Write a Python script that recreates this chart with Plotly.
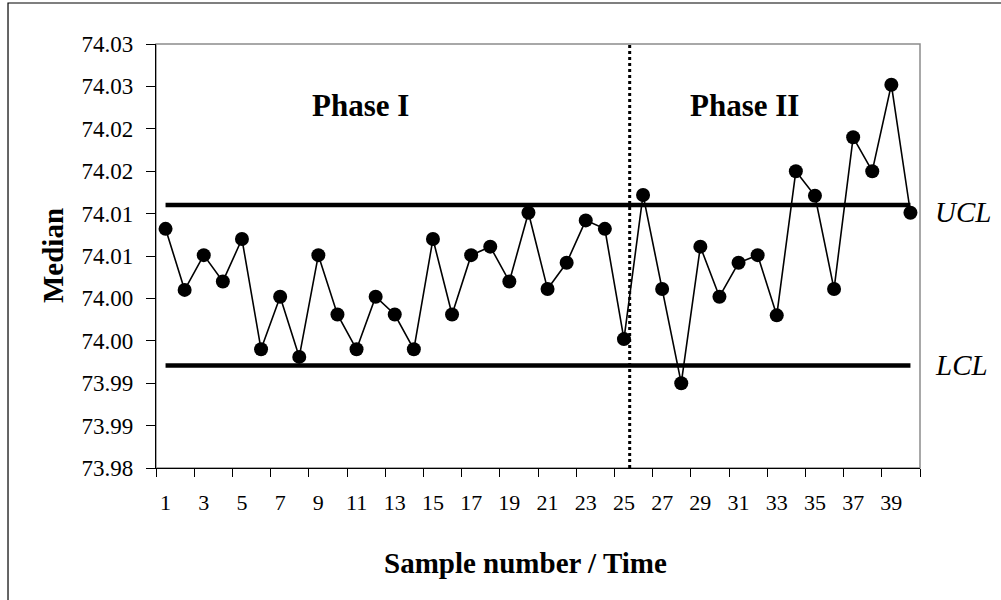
import plotly.graph_objects as go

# ---- data ----
samples = list(range(1, 41))
medians = [74.0082, 74.0010, 74.0051, 74.0020, 74.0070, 73.9940, 74.0002, 73.9931, 74.0051, 73.9981,
           73.9940, 74.0002, 73.9981, 73.9940, 74.0070, 73.9981, 74.0051, 74.0061, 74.0020, 74.0101,
           74.0011, 74.0042, 74.0092, 74.0082, 73.9952, 74.0122, 74.0011, 73.9900, 74.0061, 74.0002,
           74.0042, 74.0051, 73.9980, 74.0150, 74.0121, 74.0011, 74.0190, 74.0150, 74.0252, 74.0101]
ucl_value = 74.0110
lcl_value = 73.9921
phase_split = 25.3
y_tick_values = [73.980, 73.985, 73.990, 73.995, 74.000, 74.005, 74.010, 74.015, 74.020, 74.025, 74.030]
y_tick_labels = ["73.98", "73.99", "73.99", "74.00", "74.00", "74.01", "74.01", "74.02", "74.02", "74.03", "74.03"]
x_tick_values = samples[::2]
x_tick_labels = [str(s) for s in x_tick_values]
phase_labels = ["Phase I", "Phase II"]
phase_label_x = [11.2, 31.3]
phase_label_y = 74.0227

FONT = "Times New Roman, Liberation Serif, serif"

fig = go.Figure()

fig.add_trace(go.Scatter(x=samples, y=[ucl_value] * len(samples), mode="lines",
                         line=dict(color="black", width=4.5), hoverinfo="skip", showlegend=False))
fig.add_trace(go.Scatter(x=samples, y=[lcl_value] * len(samples), mode="lines",
                         line=dict(color="black", width=4.5), hoverinfo="skip", showlegend=False))
fig.add_trace(go.Scatter(x=samples, y=medians, mode="lines+markers",
                         line=dict(color="black", width=1.6),
                         marker=dict(color="black", size=14),
                         showlegend=False))

# phase split dotted line
fig.add_shape(type="line", xref="x", yref="paper", x0=phase_split, x1=phase_split, y0=0, y1=1,
              line=dict(color="black", width=3, dash="dot"))
# plot area border (gray)
fig.add_shape(type="rect", xref="paper", yref="paper", x0=0, x1=1, y0=0, y1=1,
              line=dict(color="#8c8c8c", width=1.5), layer="below")
# outer chart border
fig.add_shape(type="rect", xref="paper", yref="paper", x0=-0.1937, x1=1.3, y0=-0.6, y1=1.0967,
              line=dict(color="black", width=1.2), layer="below")

for txt, px in zip(phase_labels, phase_label_x):
    fig.add_annotation(x=px, y=phase_label_y, xref="x", yref="y", text="<b>%s</b>" % txt,
                       showarrow=False, font=dict(family=FONT, size=31, color="black"))

fig.add_annotation(x=1.017, y=ucl_value, xref="paper", yref="y", text="<i>UCL</i>", showarrow=False,
                   xanchor="left", yanchor="middle", yshift=-7,
                   font=dict(family=FONT, size=29, color="black"))
fig.add_annotation(x=1.017, y=lcl_value, xref="paper", yref="y", text="<i>LCL</i>", showarrow=False,
                   xanchor="left", yanchor="middle",
                   font=dict(family=FONT, size=29, color="black"))

fig.add_annotation(x=-0.1348, y=0.5, xref="paper", yref="paper", text="<b>Median</b>", textangle=-90,
                   showarrow=False, xanchor="center", yanchor="middle",
                   font=dict(family=FONT, size=29, color="black"))
fig.add_annotation(x=0.483, y=-0.224, xref="paper", yref="paper", text="<b>Sample number / Time</b>",
                   showarrow=False, xanchor="center", yanchor="middle",
                   font=dict(family=FONT, size=29, color="black"))

fig.update_layout(
    width=1001, height=600,
    margin=dict(l=156, r=81, t=44, b=132),
    paper_bgcolor="white", plot_bgcolor="white",
    font=dict(family=FONT, color="black"),
    showlegend=False,
    xaxis=dict(range=[0.5, 40.5], tickmode="array", tickvals=x_tick_values, ticktext=x_tick_labels,
               ticks="", showgrid=False, zeroline=False, showline=True, linecolor="black", linewidth=1.2,
               tickfont=dict(family=FONT, size=22, color="black"), ticklabelstandoff=14,
               minor=dict(tickmode="array", tickvals=[s - 0.5 for s in x_tick_values] + [samples[-1] + 0.5],
                          ticks="outside", ticklen=8, tickcolor="black", tickwidth=1.2, showgrid=False)),
    yaxis=dict(range=[73.980, 74.030], tickmode="array", tickvals=y_tick_values, ticktext=y_tick_labels,
               ticks="outside", ticklen=9, tickcolor="black", tickwidth=1.2,
               showgrid=False, zeroline=False, showline=True, linecolor="black", linewidth=1.2,
               tickfont=dict(family=FONT, size=23, color="black"), ticklabelstandoff=8),
)

fig.write_html("out.html")
